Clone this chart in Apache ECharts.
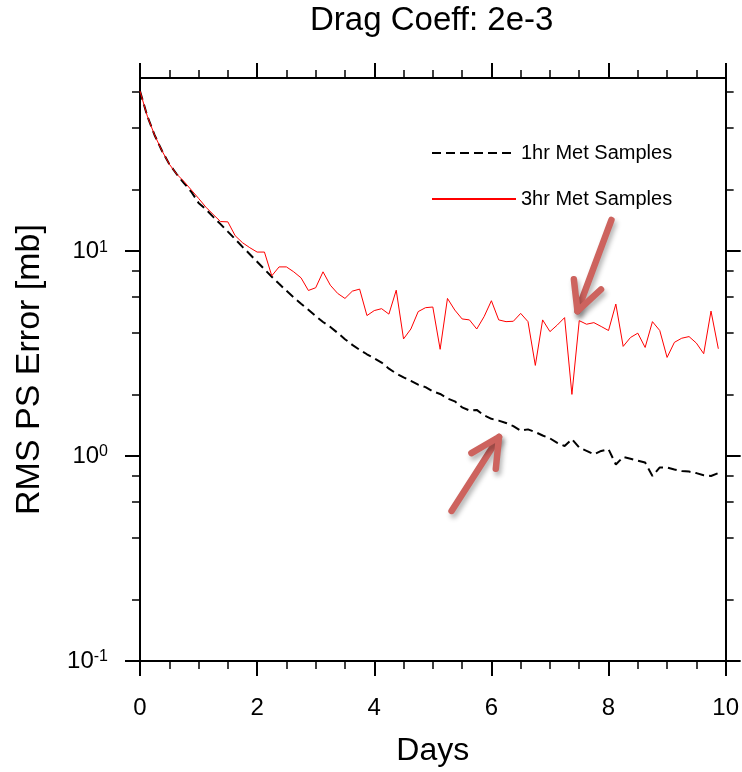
<!DOCTYPE html>
<html>
<head>
<meta charset="utf-8">
<script src="https://cdn.jsdelivr.net/npm/echarts@6/dist/echarts.min.js"></script>
<style>
html,body{margin:0;padding:0;background:#fff;}
#chart{width:742px;height:772px;}
</style>
</head>
<body>
<div id="chart"></div>
<script>
// ---- data ----
const days = [0,0.125,0.25,0.375,0.5,0.625,0.75,0.875,1,1.125,1.25,1.375,1.5,1.625,1.75,1.875,
  2,2.125,2.25,2.375,2.5,2.625,2.75,2.875,3,3.125,3.25,3.375,3.5,3.625,3.75,3.875,
  4,4.125,4.25,4.375,4.5,4.625,4.75,4.875,5,5.125,5.25,5.375,5.5,5.625,5.75,5.875,
  6,6.125,6.25,6.375,6.5,6.625,6.75,6.875,7,7.125,7.25,7.375,7.5,7.625,7.75,7.875,
  8,8.125,8.25,8.375,8.5,8.625,8.75,8.875,9,9.125,9.25,9.375,9.5,9.625,9.75,9.875];
const err1hr = [60.4,45.6,36.8,30.9,26.6,23.8,21.5,19.5,17.2,16.0,
  14.7,13.55,12.45,11.45,10.5,9.66,8.88,8.16,7.50,6.93,
  6.41,5.95,5.54,5.18,4.82,4.51,4.27,3.99,3.72,3.49,
  3.30,3.14,3.00,2.86,2.67,2.53,2.42,2.33,2.23,2.17,
  2.07,2.01,1.91,1.85,1.73,1.67,1.68,1.58,1.52,1.49,
  1.45,1.40,1.33,1.35,1.31,1.26,1.22,1.16,1.12,1.21,
  1.10,1.06,1.02,1.06,1.08,0.91,0.99,0.97,0.95,0.93,
  0.80,0.88,0.88,0.86,0.845,0.84,0.826,0.807,0.80,0.826];
const err3hr = [60.4,45.6,36.8,30.9,26.6,23.8,21.9,19.9,18.1,16.4,
  15.1,13.95,13.9,11.9,11.0,10.4,9.9,9.9,7.58,8.38,
  8.38,7.93,7.41,6.43,6.63,7.93,6.82,6.22,5.88,6.38,
  6.53,4.85,5.13,5.24,4.93,6.45,3.73,4.17,5.07,5.30,
  5.34,3.32,5.88,5.16,4.67,4.62,4.17,4.79,5.73,4.62,
  4.53,4.55,4.97,4.53,2.77,4.62,4.05,4.36,4.74,2.00,
  4.58,4.40,4.48,4.29,4.10,5.52,3.43,3.79,3.98,3.39,
  4.53,4.10,3.03,3.59,3.76,3.83,3.56,3.16,5.10,3.34];
const seriesNames = ['1hr Met Samples','3hr Met Samples'];
const yMajorTicks = [0.1, 1, 10];
const yMinorTicks = [0.2,0.4,0.6,0.8,2,4,6,8,20,40,60];
// annotation arrows: [day, value] of tail and tip
const arrowTail = [[5.32, 0.54],[8.05, 14.2]];
const arrowTip  = [[6.13, 1.24],[7.47, 5.1]];

const FONT = '"Liberation Sans", Arial, Helvetica, sans-serif';
const chart = echarts.init(document.getElementById('chart'), null, {renderer:'canvas'});

function yAxisDef(position, major) {
  return {
    type:'log', logBase:10, min:0.1, max:70, position: position,
    axisLine:{show: major, onZero:false, lineStyle:{color:'#000', width:2}},
    axisTick:{show:true, inside:false, length: major ? 15 : 8,
      customValues: major ? yMajorTicks : yMinorTicks,
      lineStyle:{color:'#000', width: major ? 2 : 1.5}},
    minorTick:{show:false},
    splitLine:{show:false},
    axisLabel:{show: major && position === 'left', customValues: yMajorTicks, margin:32,
      fontFamily: FONT, color:'#000',
      formatter: function(v){ const e = Math.round(Math.log10(v)); return '{b|10}{s|' + e + '}'; },
      rich:{ b:{fontSize:24, fontFamily:FONT, color:'#000'},
             s:{fontSize:16, fontFamily:FONT, color:'#000', verticalAlign:'top'} }
    },
    name: (major && position === 'left') ? 'RMS PS Error [mb]' : '',
    nameLocation:'middle', nameGap:93,
    nameTextStyle:{fontSize:34, fontFamily:FONT, color:'#000'}
  };
}
function xAxisDef(position) {
  return {
    type:'value', min:0, max:10, interval:2, position: position,
    axisLine:{show:true, onZero:false, lineStyle:{color:'#000', width:2}},
    axisTick:{show:true, inside:false, length:15, lineStyle:{color:'#000', width:2}},
    minorTick:{show:true, splitNumber:4, length:8, lineStyle:{color:'#000', width:1.5}},
    splitLine:{show:false}, minorSplitLine:{show:false},
    axisLabel:{show: position === 'bottom', margin:35, fontSize:24, fontFamily:FONT, color:'#000'},
    name: position === 'bottom' ? 'Days' : '',
    nameLocation:'middle', nameGap:74,
    nameTextStyle:{fontSize:32, fontFamily:FONT, color:'#000'}
  };
}

const option = {
  backgroundColor:'#fff',
  animation:false,
  title:{text:'Drag Coeff: 2e-3', left:310, top:4, padding:0,
    textStyle:{fontSize:33, fontWeight:'normal', fontFamily:FONT, color:'#000'}},
  legend:{orient:'vertical', left:431, top:143, padding:0, itemWidth:84, itemHeight:12, itemGap:26,
    data: seriesNames,
    itemStyle:{opacity:0},
    textStyle:{fontSize:20, fontFamily:FONT, color:'#000'}},
  grid:{left:140, right:16, top:78, bottom:108, containLabel:false},
  xAxis:[xAxisDef('bottom'), xAxisDef('top')],
  yAxis:[yAxisDef('left', true), yAxisDef('left', false), yAxisDef('right', true), yAxisDef('right', false)],
  series:[
    {name: seriesNames[0], type:'line', xAxisIndex:0, yAxisIndex:0, showSymbol:false, symbol:'none',
     data: days.map((d,i)=>[d, err1hr[i]]),
     lineStyle:{color:'#000', width:2, type:[9,5]}, itemStyle:{color:'#000'}, z:2},
    {name: seriesNames[1], type:'line', xAxisIndex:0, yAxisIndex:0, showSymbol:false, symbol:'none',
     data: days.map((d,i)=>[d, err3hr[i]]),
     lineStyle:{color:'#ff0000', width:1}, itemStyle:{color:'#ff0000'}, z:3},
    {type:'custom', xAxisIndex:0, yAxisIndex:0, silent:true, z:5,
     data: arrowTail.map((t,i)=>[t[0], t[1], arrowTip[i][0], arrowTip[i][1]]),
     encode:{x:[0,2], y:[1,3]},
     renderItem: function(params, api){
       const a = api.coord([api.value(0), api.value(1)]);
       const b = api.coord([api.value(2), api.value(3)]);
       const ang = Math.atan2(a[1]-b[1], a[0]-b[0]);
       const L = 32, spread = 0.47;
       const w1 = [b[0] + L*Math.cos(ang+spread), b[1] + L*Math.sin(ang+spread)];
       const w2 = [b[0] + L*Math.cos(ang-spread), b[1] + L*Math.sin(ang-spread)];
       const st = {stroke:'#cd635e', lineWidth:6.5, lineCap:'round', lineJoin:'round', fill:null,
         shadowBlur:5, shadowOffsetX:2, shadowOffsetY:4, shadowColor:'rgba(0,0,0,0.3)'};
       return {type:'group', children:[
         {type:'line', shape:{x1:a[0], y1:a[1], x2:b[0], y2:b[1]}, style:st},
         {type:'polyline', shape:{points:[w1, b, w2]}, style:st}
       ]};
     }}
  ]
};
chart.setOption(option);
</script>
</body>
</html>
